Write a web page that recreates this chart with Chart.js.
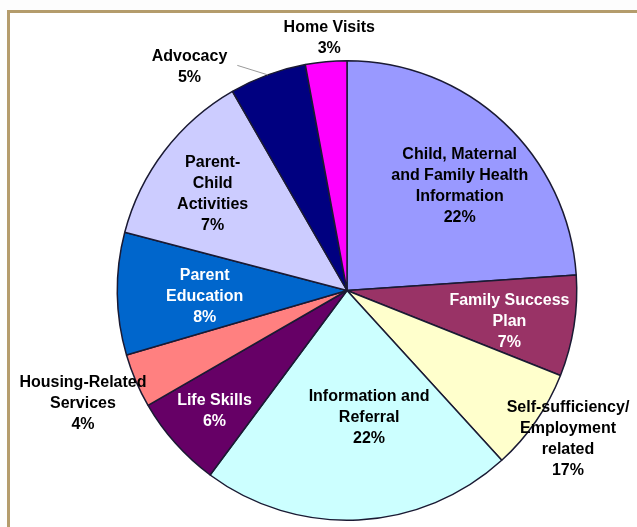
<!DOCTYPE html>
<html>
<head>
<meta charset="utf-8">
<script src="https://cdn.jsdelivr.net/npm/chart.js@4.4.1/dist/chart.umd.min.js"></script>
<style>
  html, body { margin: 0; padding: 0; background: #fdfdfd; }
  #wrap { position: relative; width: 637px; height: 527px; }
  #frame { position: absolute; left: 7px; top: 10px; right: 0; bottom: 0;
           border-top: 3px solid #b49c6c; border-left: 3px solid #b49c6c; background: #fff; }
  #chartBox { position: absolute; left: 0; top: 0; width: 637px; height: 527px; }
</style>
</head>
<body>
<div id="wrap">
  <div id="frame"></div>
  <div id="chartBox"><canvas id="myChart"></canvas></div>
</div>
<script>
// slices, clockwise from 12 o'clock
var categories = ['Child, Maternal and Family Health Information', 'Family Success Plan',
  'Self-sufficiency/ Employment related', 'Information and Referral', 'Life Skills',
  'Housing-Related Services', 'Parent Education', 'Parent-Child Activities', 'Advocacy', 'Home Visits'];
// share of the circle
var shares = [23.9, 7.1, 7.2, 21.9, 6.5, 3.8, 8.6, 12.6, 5.4, 2.9];
// the text printed on each slice
var labelLines = [
  ['Child, Maternal', 'and Family Health', 'Information'],
  ['Family Success', 'Plan'],
  ['Self-sufficiency/', 'Employment', 'related'],
  ['Information and', 'Referral'],
  ['Life Skills'],
  ['Housing-Related', 'Services'],
  ['Parent', 'Education'],
  ['Parent-', 'Child', 'Activities'],
  ['Advocacy'],
  ['Home Visits']
];
var percentLabels = ['22%', '7%', '17%', '22%', '6%', '4%', '8%', '7%', '5%', '3%'];

var colors = ['#9999ff', '#993366', '#ffffcc', '#ccffff', '#660066',
              '#ff8080', '#0066cc', '#ccccff', '#000080', '#ff00ff'];
var textColors = ['#000', '#fff', '#000', '#000', '#fff', '#000', '#fff', '#000', '#000', '#000'];
// where each label sits: fraction of radius, angle shift (deg) from slice middle
var labelPlace = [
  {r: 0.67, da: 4}, {r: 0.72, da: 2}, {r: 1.16, da: -0.7}, {r: 0.56, da: -7},
  {r: 0.78, da: -0.6}, {r: 1.25, da: 0}, {r: 0.62, da: -1.7}, {r: 0.72, da: -1.7},
  {r: 1.19, da: -15}, {r: 1.10, da: 1.2}
];

var sliceLabels = {
  id: 'sliceLabels',
  afterDatasetsDraw: function (chart) {
    var ctx = chart.ctx;
    var arcs = chart.getDatasetMeta(0).data;
    ctx.save();
    ctx.font = 'bold 16px "Liberation Sans", Arial, sans-serif';
    ctx.textAlign = 'center';
    ctx.textBaseline = 'middle';
    arcs.forEach(function (arc, i) {
      var p = arc.getProps(['x', 'y', 'startAngle', 'endAngle', 'outerRadius'], true);
      var mid = (p.startAngle + p.endAngle) / 2;
      var a = mid + labelPlace[i].da * Math.PI / 180;
      var cx = p.x + Math.cos(a) * p.outerRadius * labelPlace[i].r;
      var cy = p.y + Math.sin(a) * p.outerRadius * labelPlace[i].r;
      var lines = labelLines[i].concat([percentLabels[i]]);
      var lh = 21;
      var y0 = cy - (lines.length - 1) * lh / 2;
      ctx.fillStyle = textColors[i];
      lines.forEach(function (t, k) {
        ctx.fillText(t, cx, y0 + k * lh);
      });
      // leader line for the small label pushed aside
      if (i == 8) {
        var a2 = mid - 5.8 * Math.PI / 180;
        ctx.strokeStyle = '#999';
        ctx.lineWidth = 1;
        ctx.beginPath();
        ctx.moveTo(p.x + Math.cos(mid) * p.outerRadius, p.y + Math.sin(mid) * p.outerRadius);
        ctx.lineTo(p.x + Math.cos(a2) * p.outerRadius * 1.09, p.y + Math.sin(a2) * p.outerRadius * 1.09);
        ctx.stroke();
      }
    });
    ctx.restore();
  }
};

var config = {
  type: 'pie',
  data: {
    labels: categories,
    datasets: [{
      data: shares,
      backgroundColor: colors,
      borderColor: '#1a1a33',
      borderWidth: 1.5,
      hoverOffset: 0
    }]
  },
  options: {
    responsive: true,
    maintainAspectRatio: false,
    animation: false,
    layout: { padding: { left: 116, right: 59, top: 60, bottom: 6 } },
    plugins: {
      legend: { display: false },
      tooltip: { enabled: false }
    }
  },
  plugins: [sliceLabels]
};

var ctx = document.getElementById('myChart').getContext('2d');
window.myPie = new Chart(ctx, config);
</script>
</body>
</html>
